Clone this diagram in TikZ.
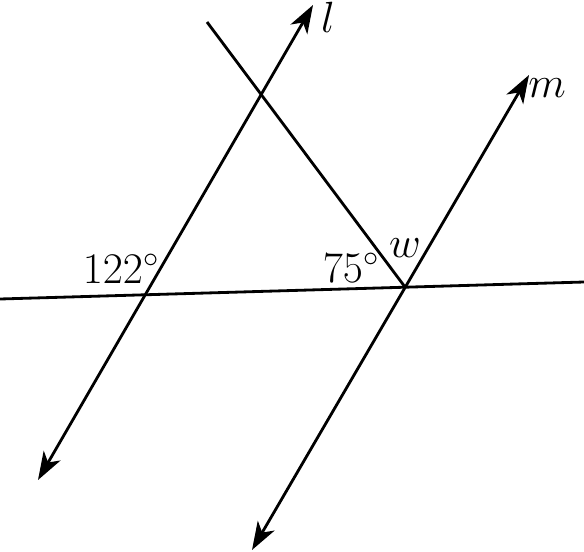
\documentclass[tikz,border=0pt]{standalone}
\usetikzlibrary{arrows.meta}
\begin{document}
\begin{tikzpicture}[x=0.02cm, y=-0.02cm, line width=1.6pt,
	ray/.style={{Stealth[length=16pt,width=11pt,inset=4.5pt]}-{Stealth[length=16pt,width=11pt,inset=4.5pt]}},
	lbl/.style={font=\fontsize{23}{27}\selectfont, inner sep=0pt}]
	\useasboundingbox (0,0) rectangle (584,551);
	\coordinate (lA) at (38,480);
	\coordinate (lB) at (313,5);
	\coordinate (mA) at (252,550);
	\coordinate (mB) at (529,75);
	\coordinate (tA) at (0,299);
	\coordinate (tB) at (584,282);
	\coordinate (s) at (207,22);
	\coordinate (w) at (405,287);
	\draw[ray] (lA) -- (lB);
	\draw[ray] (mA) -- (mB);
	\draw (tA) -- (tB);
	\draw (s) -- (w);
	\node (lname) [lbl] at (328,17) {$l$};
	\node (mname) [lbl] at (547,88) {$m$};
	\node (a122) [lbl] at (121,269) {$122^\circ$};
	\node (a75) [lbl] at (351,268) {$75^\circ$};
	\node (wname) [lbl] at (405,248) {$w$};
\end{tikzpicture}
\end{document}
